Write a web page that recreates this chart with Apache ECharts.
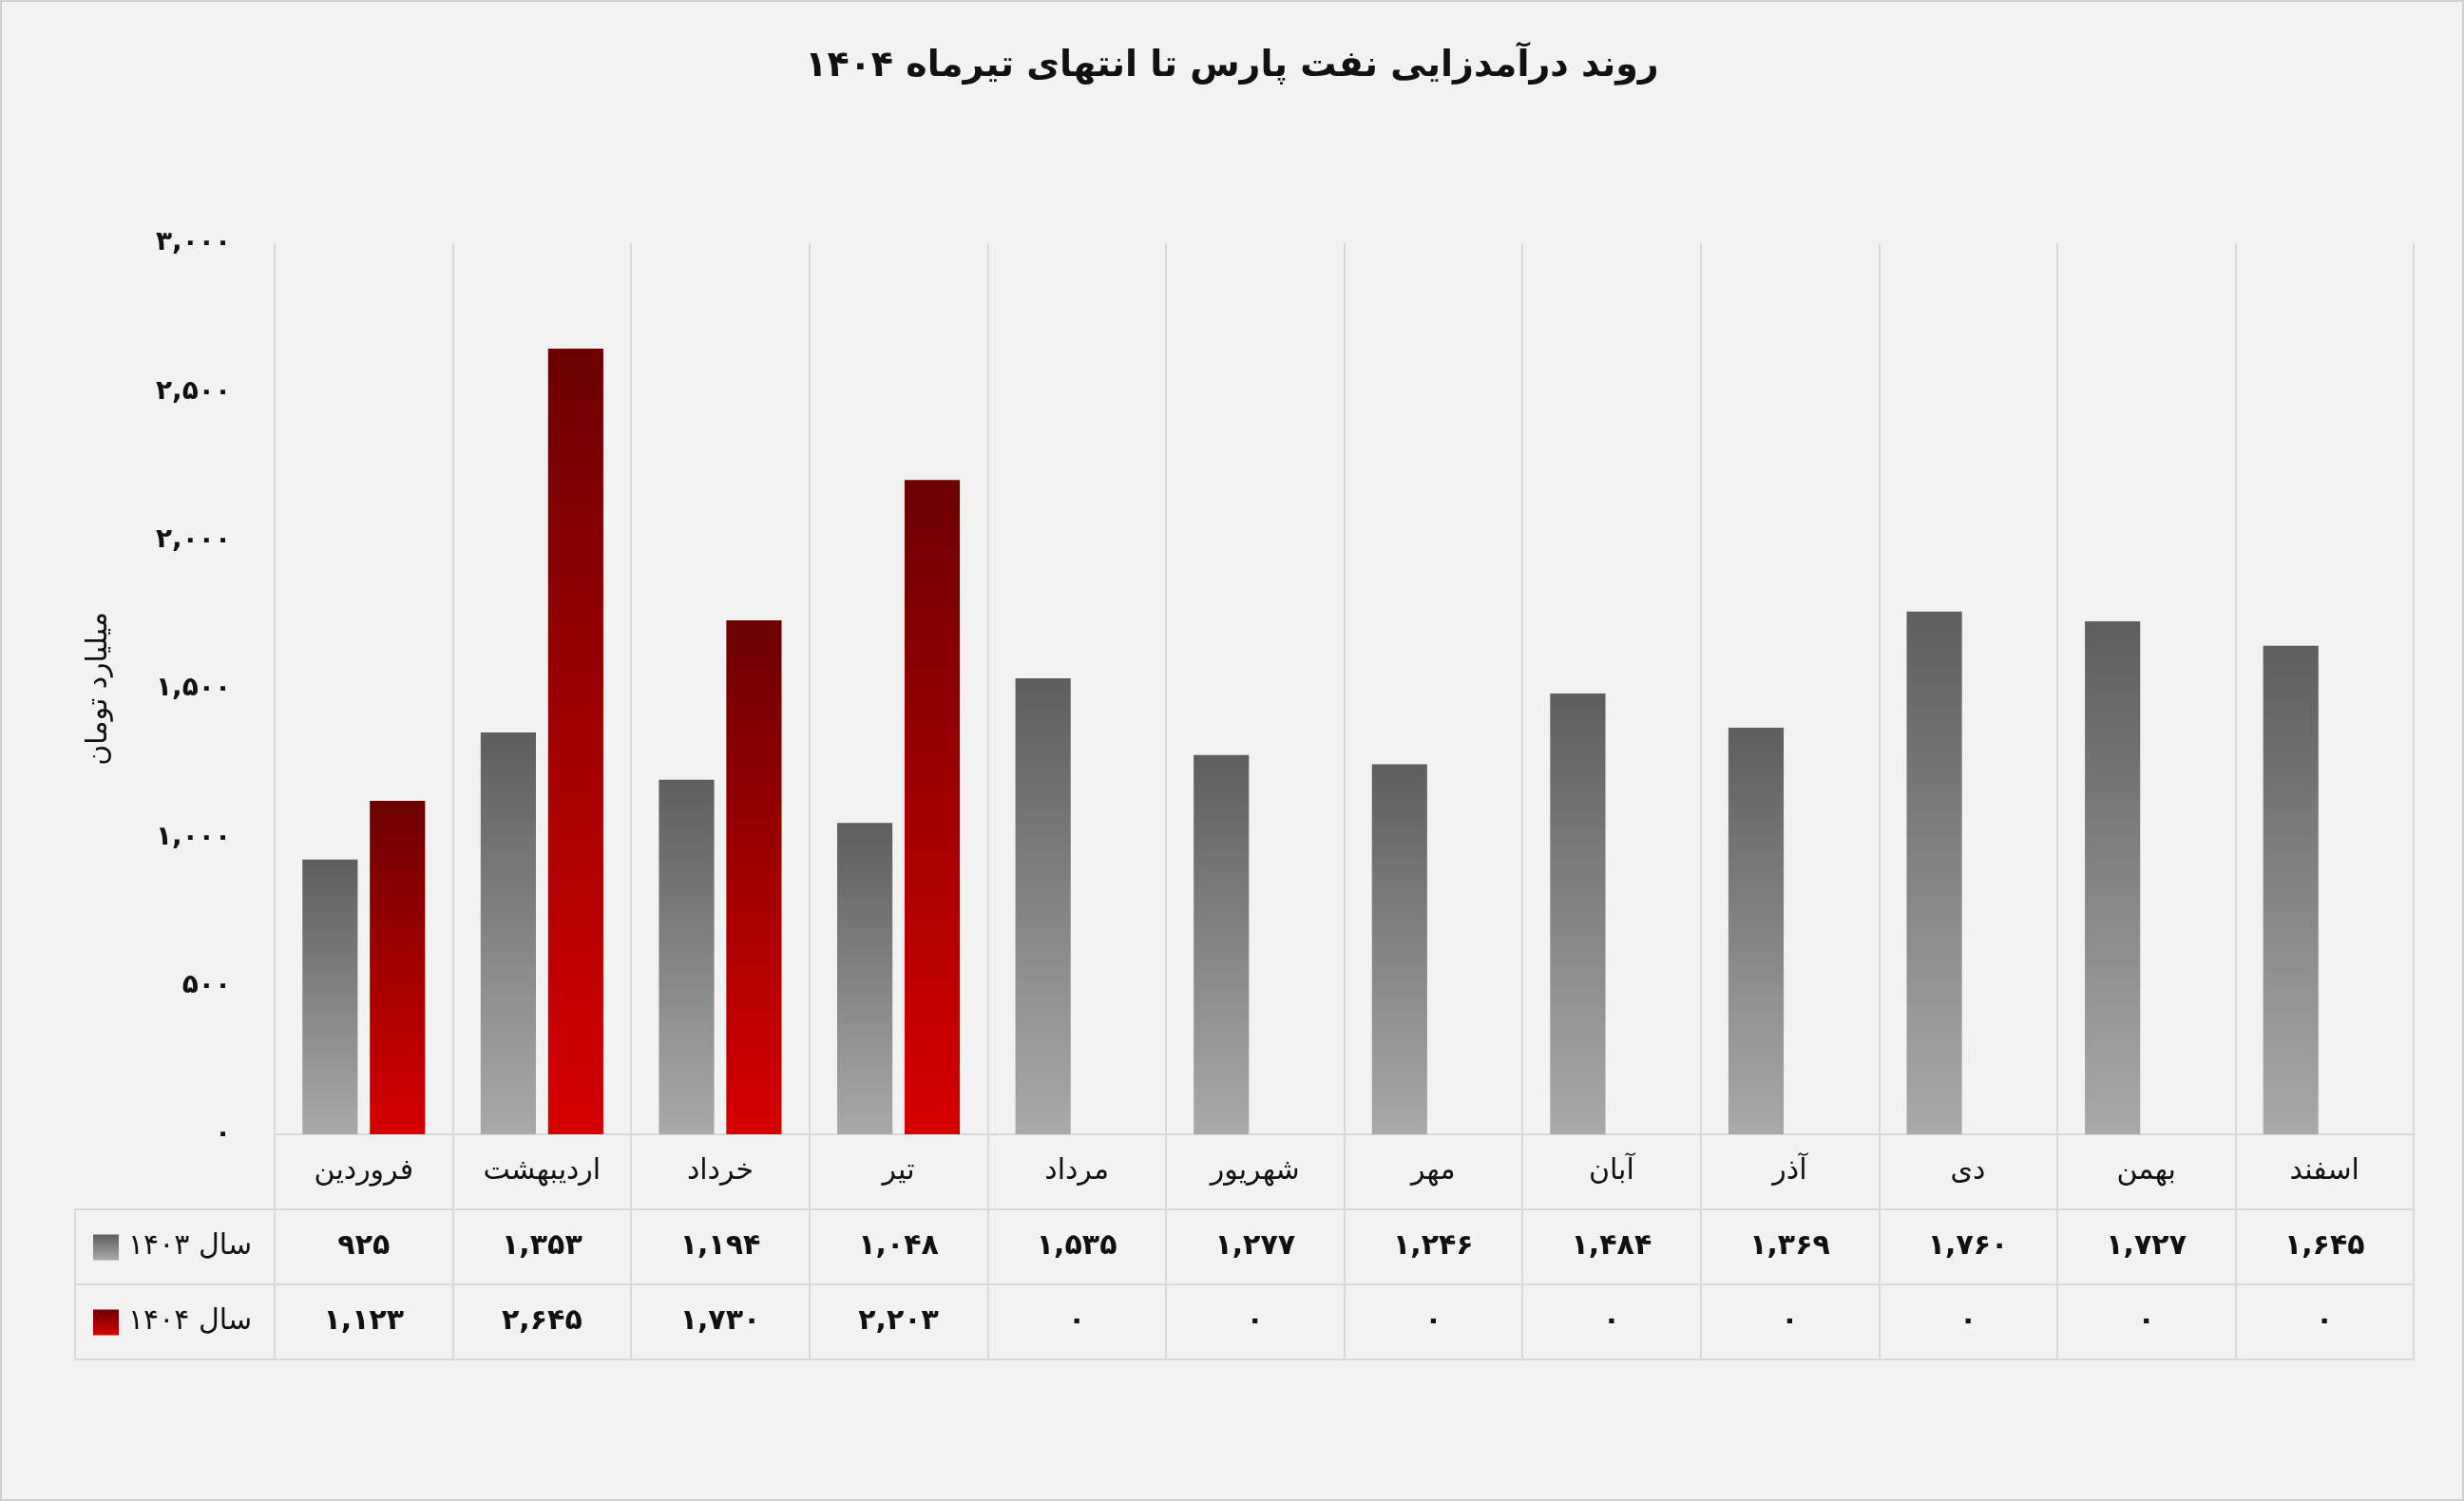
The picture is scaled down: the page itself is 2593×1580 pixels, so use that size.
<!DOCTYPE html>
<html>
<head>
<meta charset="utf-8">
<script src="https://cdn.jsdelivr.net/npm/echarts@6/dist/echarts.min.js"></script>
<style>html,body{margin:0;padding:0;background:#f2f2f2}#main{width:2593px;height:1580px}</style>
</head>
<body>
<div id="main"></div>
<script>
var months = ['فروردین', 'اردیبهشت', 'خرداد', 'تیر', 'مرداد', 'شهریور', 'مهر', 'آبان', 'آذر', 'دی', 'بهمن', 'اسفند'];
var sal1403 = [925, 1353, 1194, 1048, 1535, 1277, 1246, 1484, 1369, 1760, 1727, 1645];
var sal1404 = [1123, 2645, 1730, 2203, 0, 0, 0, 0, 0, 0, 0, 0];
var seriesNames = ['سال ۱۴۰۳', 'سال ۱۴۰۴'];

// اعداد فارسی با جداکننده هزارگان
function fa(n) {
    var s = String(n).replace(/\B(?=(\d{3})+(?!\d))/g, ',');
    return s.replace(/\d/g, function (d) { return '۰۱۲۳۴۵۶۷۸۹'[d]; });
}

var font = 'DejaVu Sans';
var lineColor = '#d9d9d9';
var gTop = 256, gBottom = 1194, gLeft = 289, gRight = 2540, row = 79;

function tableAxis(data, offset, showTick, bold) {
    return {
        type: 'category', gridIndex: 0, position: 'bottom', offset: offset,
        data: data,
        axisLine: { show: true, lineStyle: { color: lineColor, width: 2 } },
        axisTick: { show: showTick, length: row, interval: 0, lineStyle: { color: lineColor, width: 2 } },
        axisLabel: { show: true, interval: 0, margin: row / 2, verticalAlign: 'middle',
            color: '#111', fontFamily: font, fontSize: 30, fontWeight: bold ? 'bold' : 'normal' },
        splitLine: { show: false }
    };
}

var myChart = echarts.init(document.getElementById('main'));
var x0 = tableAxis(months, 0, true, false);
x0.splitLine = { show: true, interval: 0, lineStyle: { color: lineColor, width: 2 } };

var option = {
    backgroundColor: '#f2f2f2',
    animation: false,
    title: {
        text: 'روند درآمدزایی نفت پارس تا انتهای تیرماه ۱۴۰۴',
        left: 'center', top: 46,
        textStyle: { fontFamily: font, fontSize: 38, fontWeight: 'bold', color: '#111' }
    },
    grid: { left: gLeft, right: 2593 - gRight, top: gTop, bottom: 1580 - gBottom },
    xAxis: [
        x0,
        tableAxis(sal1403.map(fa), row, true, true),
        tableAxis(sal1404.map(fa), row * 2, true, true),
        tableAxis(months.map(function () { return ''; }), row * 3, false, false)
    ],
    yAxis: {
        type: 'value', min: 0, max: 3000, interval: 500,
        name: 'میلیارد تومان', nameLocation: 'middle', nameGap: 170, nameRotate: 90,
        nameTextStyle: { fontFamily: font, fontSize: 30, color: '#111' },
        axisLine: { show: false }, axisTick: { show: false }, splitLine: { show: false },
        axisLabel: { formatter: fa, fontFamily: font, fontSize: 28, fontWeight: 'bold', color: '#111', margin: 46 }
    },
    series: [{
        name: seriesNames[0], type: 'bar', data: sal1403, barWidth: '31%', barGap: '22%',
        itemStyle: { color: new echarts.graphic.LinearGradient(0, 0, 0, 1, [
            { offset: 0, color: '#5e5e5e' }, { offset: 1, color: '#a9a9a9' }]) }
    }, {
        name: seriesNames[1], type: 'bar', data: sal1404, barWidth: '31%',
        itemStyle: { color: new echarts.graphic.LinearGradient(0, 0, 0, 1, [
            { offset: 0, color: '#6c0000' }, { offset: 1, color: '#d60000' }]) }
    }],
    graphic: [
        { type: 'rect', shape: { x: 1, y: 1, width: 2591, height: 1578 }, style: { fill: 'none', stroke: '#d0d0d0', lineWidth: 2 } },
        { type: 'line', shape: { x1: 79, y1: gBottom + row, x2: gLeft, y2: gBottom + row }, style: { stroke: lineColor, lineWidth: 2 } },
        { type: 'line', shape: { x1: 79, y1: gBottom + row * 2, x2: gLeft, y2: gBottom + row * 2 }, style: { stroke: lineColor, lineWidth: 2 } },
        { type: 'line', shape: { x1: 79, y1: gBottom + row * 3, x2: gLeft, y2: gBottom + row * 3 }, style: { stroke: lineColor, lineWidth: 2 } },
        { type: 'line', shape: { x1: 79, y1: gBottom + row, x2: 79, y2: gBottom + row * 3 }, style: { stroke: lineColor, lineWidth: 2 } },
        { type: 'rect', shape: { x: 98, y: gBottom + row * 1.5 - 13, width: 27, height: 27 },
          style: { fill: new echarts.graphic.LinearGradient(0, 0, 0, 1, [{ offset: 0, color: '#5e5e5e' }, { offset: 1, color: '#a9a9a9' }]) } },
        { type: 'rect', shape: { x: 98, y: gBottom + row * 2.5 - 13, width: 27, height: 27 },
          style: { fill: new echarts.graphic.LinearGradient(0, 0, 0, 1, [{ offset: 0, color: '#6c0000' }, { offset: 1, color: '#d60000' }]) } },
        { type: 'text', x: 135, y: gBottom + row * 1.5, style: { text: seriesNames[0], fontFamily: font, fontSize: 30, fill: '#111', verticalAlign: 'middle' } },
        { type: 'text', x: 135, y: gBottom + row * 2.5, style: { text: seriesNames[1], fontFamily: font, fontSize: 30, fill: '#111', verticalAlign: 'middle' } }
    ]
};
myChart.setOption(option);
</script>
</body>
</html>
